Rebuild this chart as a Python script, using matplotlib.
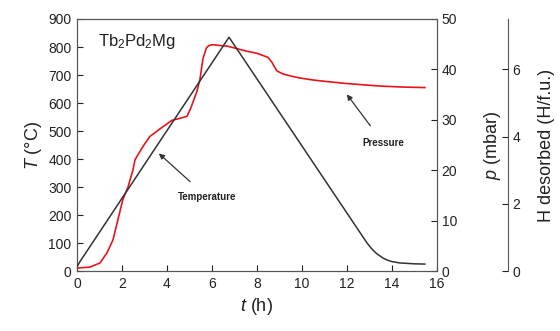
import matplotlib
matplotlib.use('Agg')
import matplotlib.pyplot as plt

plt.rcParams['font.family'] = ['Liberation Sans', 'DejaVu Sans']
plt.rcParams['mathtext.fontset'] = 'custom'
plt.rcParams['mathtext.rm'] = 'Liberation Sans'
plt.rcParams['mathtext.it'] = 'Liberation Sans:italic'

# temperature program (deg C) vs time (h)
temp_t = [0, 0.1, 6.76, 12.9, 13.1, 13.33, 13.6, 13.78, 14.0, 14.36, 15.0, 15.47]
temp_T = [15, 30, 835, 100, 80, 62, 47, 40, 34, 29, 26, 25]

# pressure (mbar) vs time (h)
pres_t = [0, 0.58, 1.02, 1.33, 1.6, 1.82, 2.04, 2.27, 2.49, 2.58, 2.93, 3.24,
          3.78, 4.22, 4.58, 4.89, 5.05, 5.33, 5.47, 5.6, 5.75, 5.85, 6.0, 6.7,
          7.56, 8.0, 8.49, 8.67, 8.89, 9.16, 9.5, 9.91, 10.5, 11.1, 12.0, 12.58,
          13.47, 14.5, 15.47]
pres_p = [0.6, 0.8, 1.6, 3.6, 6.2, 10.2, 14.2, 16.7, 20.1, 22.1, 24.7, 26.7,
          28.5, 29.9, 30.3, 30.7, 32.2, 35.6, 38.1, 42.1, 44.2, 44.7, 44.9, 44.6,
          43.6, 43.2, 42.4, 41.4, 39.7, 39.1, 38.7, 38.3, 37.9, 37.6, 37.2, 37.0,
          36.7, 36.5, 36.4]

x_ticks = [0, 2, 4, 6, 8, 10, 12, 14, 16]
T_ticks = [0, 100, 200, 300, 400, 500, 600, 700, 800, 900]
p_ticks = [0, 10, 20, 30, 40, 50]
H_ticks = [0, 2, 4, 6]

spine_col = '#555555'
text_col = '#222222'

fig = plt.figure(figsize=(5.6, 3.31), dpi=100)
ax = fig.add_axes([0.1375, 0.181, 0.6425, 0.7616])

ax.plot(temp_t, temp_T, color='#333333', lw=1.1, zorder=3)
ax.set_xlim(0, 16)
ax.set_ylim(0, 900)
ax.set_xticks(x_ticks)
ax.set_yticks(T_ticks)
ax.tick_params(direction='in', length=4, labelsize=10, colors=text_col,
               pad=4)
ax.set_xlabel(r'$t$ (h)', fontsize=13, color=text_col, labelpad=4)
ax.set_ylabel(r'$T$ (°C)', fontsize=13, color=text_col, labelpad=3)
for s in ax.spines.values():
    s.set_color(spine_col)

ax.text(2.67, 821, r'Tb$_2$Pd$_2$Mg', fontsize=12, color=text_col,
        ha='center', va='center')
ax.annotate('Temperature', xy=(3.64, 420), xytext=(5.78, 265),
            fontsize=7, fontweight='bold', color=text_col,
            ha='center', va='center',
            arrowprops=dict(arrowstyle='-|>', color='#333333', lw=0.9,
                            mutation_scale=8, shrinkA=8, shrinkB=0))
ax.annotate('Pressure', xy=(12.0, 631), xytext=(13.6, 459),
            fontsize=7, fontweight='bold', color=text_col,
            ha='center', va='center',
            arrowprops=dict(arrowstyle='-|>', color='#333333', lw=0.9,
                            mutation_scale=8, shrinkA=8, shrinkB=0))

axp = ax.twinx()
axp.plot(pres_t, pres_p, color='#e8141c', lw=1.2, zorder=2)
axp.set_ylim(0, 50)
axp.set_yticks(p_ticks)
axp.tick_params(direction='in', length=4, labelsize=10, colors=text_col)
axp.set_ylabel(r'$p$ (mbar)', fontsize=13, color=text_col, labelpad=18)
for s in axp.spines.values():
    s.set_color(spine_col)

axh = ax.twinx()
axh.spines['right'].set_position(('axes', 1.197))
for k in ['left', 'top', 'bottom']:
    axh.spines[k].set_visible(False)
axh.spines['right'].set_color(spine_col)
axh.set_ylim(0, 7.5)
axh.set_yticks(H_ticks)
axh.tick_params(direction='in', length=4, labelsize=10, colors=text_col)
axh.set_ylabel('H desorbed (H/f.u.)', fontsize=13, color=text_col, labelpad=13)

ax.set_zorder(axp.get_zorder() + 1)
ax.patch.set_visible(False)

fig.savefig('out.png', dpi=100)
